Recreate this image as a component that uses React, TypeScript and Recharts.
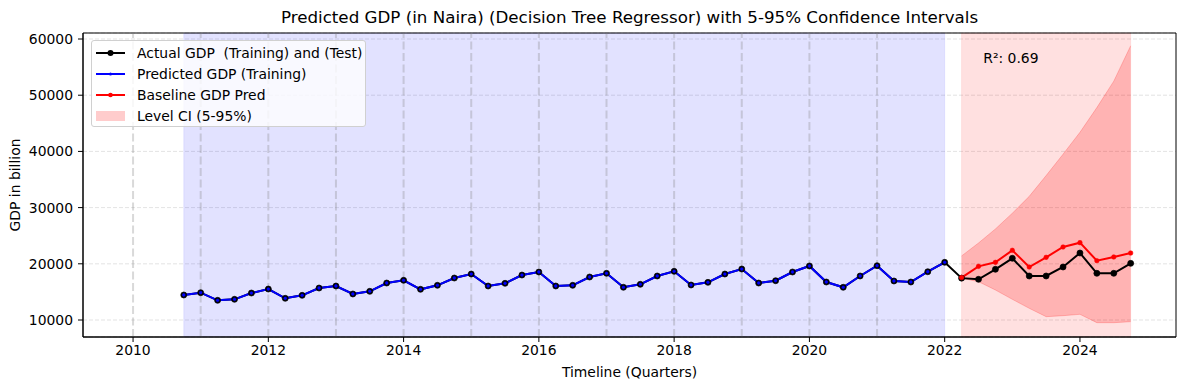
import React from 'react';
import {
  ComposedChart, Line, Area, XAxis, YAxis, CartesianGrid,
  ReferenceArea, ReferenceLine, ReferenceDot, Legend,
} from 'recharts';

const FONT = "'DejaVu Sans', sans-serif";

// quarters (year-month of quarter start)
const trainQuarters = [
  '2010-10',
  '2011-01', '2011-04', '2011-07', '2011-10',
  '2012-01', '2012-04', '2012-07', '2012-10',
  '2013-01', '2013-04', '2013-07', '2013-10',
  '2014-01', '2014-04', '2014-07', '2014-10',
  '2015-01', '2015-04', '2015-07', '2015-10',
  '2016-01', '2016-04', '2016-07', '2016-10',
  '2017-01', '2017-04', '2017-07', '2017-10',
  '2018-01', '2018-04', '2018-07', '2018-10',
  '2019-01', '2019-04', '2019-07', '2019-10',
  '2020-01', '2020-04', '2020-07', '2020-10',
  '2021-01', '2021-04', '2021-07', '2021-10',
  '2022-01',
];
const testQuarters = [
  '2022-04', '2022-07', '2022-10',
  '2023-01', '2023-04', '2023-07', '2023-10',
  '2024-01', '2024-04', '2024-07', '2024-10',
];

const actualTrain = [
  14450,
  14860, 13500, 13680, 14800,
  15510, 13860, 14390, 15690,
  16050, 14630, 15100, 16580,
  17060, 15460, 16170, 17470,
  18180, 16050, 16530, 18000,
  18540, 16050, 16170, 17650,
  18310, 15820, 16350, 17830,
  18660, 16230, 16700, 18180,
  19070, 16580, 16990, 18540,
  19610, 16760, 15820, 17830,
  19660, 16940, 16760, 18590,
  20260,
];
// the tree fits the training set exactly
const predictedTrain = [...actualTrain];

const actualTest = [17450, 17240, 19020, 20980, 17830, 17830, 19430, 21920, 18310, 18310, 20080];
const baselinePred = [17550, 19550, 20260, 22400, 19430, 21150, 22990, 23760, 20550, 21210, 21920];
const ciLow = [17450, 16820, 15340, 13680, 12080, 10590, 10770, 11010, 9520, 9520, 9700];
const ciHigh = [21400, 23700, 26200, 29000, 32000, 35700, 39500, 43400, 47800, 52500, 58800];

const yearMarks = [2010, 2011, 2012, 2013, 2014, 2015, 2016, 2017, 2018, 2019, 2020, 2021];
const xTicks = [2010, 2012, 2014, 2016, 2018, 2020, 2022, 2024];
const yTicks = [10000, 20000, 30000, 40000, 50000, 60000];

const toYear = (q: string) => {
  const [y, m] = q.split('-').map(Number);
  return y + (m - 1) / 12;
};

const data = [
  ...trainQuarters.map((q, i) => ({ x: toYear(q), actual: actualTrain[i], predicted: predictedTrain[i] })),
  ...testQuarters.map((q, i) => ({
    x: toYear(q),
    actual: actualTest[i],
    baseline: baselinePred[i],
    ci: [ciLow[i], ciHigh[i]],
  })),
];

const trainStart = toYear(trainQuarters[0]);
const trainEnd = toYear(trainQuarters[trainQuarters.length - 1]);
const testStart = toYear(testQuarters[0]);
const testEnd = toYear(testQuarters[testQuarters.length - 1]);

const X_DOMAIN: [number, number] = [2009.26, 2025.42];
const Y_DOMAIN: [number, number] = [6975, 61070];

const legendItems = [
  { label: 'Actual GDP  (Training) and (Test)', color: '#000000', r: 3, kind: 'line' },
  { label: 'Predicted GDP (Training)', color: '#0000ff', r: 1.5, kind: 'line' },
  { label: 'Baseline GDP Pred', color: '#ff0000', r: 2.3, kind: 'line' },
  { label: 'Level CI (5-95%)', color: '#ff0000', r: 0, kind: 'patch' },
];

const renderLegend = () => (
  <div
    style={{
      width: 275,
      height: 87,
      boxSizing: 'border-box',
      border: '1px solid #d0d0d0',
      borderRadius: 3,
      background: 'rgba(255,255,255,0.8)',
      fontFamily: FONT,
      fontSize: 13.9,
      color: '#000',
      padding: '1px 0 0 4px',
    }}
  >
    {legendItems.map((it) => (
      <div key={it.label} style={{ display: 'flex', alignItems: 'center', height: 21, whiteSpace: 'pre' }}>
        <svg width={30} height={14} style={{ marginRight: 11 }}>
          {it.kind === 'line' ? (
            <>
              <line x1={0} y1={7} x2={29} y2={7} stroke={it.color} strokeWidth={2} />
              <circle cx={14.5} cy={7} r={it.r} fill={it.color} />
            </>
          ) : (
            <rect x={0} y={2} width={29} height={10} fill={it.color} fillOpacity={0.2} />
          )}
        </svg>
        <span>{it.label}</span>
      </div>
    ))}
  </div>
);

const tickStyle = { fontFamily: FONT, fontSize: 13.9, fill: '#000' };

export default function App() {
  return (
    <div style={{ position: 'absolute', left: 0, top: 0, width: 1189, height: 390, background: '#fff' }}>
      <div
        style={{
          position: 'absolute', left: 83, top: 7, width: 1093, textAlign: 'center',
          fontFamily: FONT, fontSize: 16.7, color: '#000', lineHeight: '20px',
        }}
      >
        Predicted GDP (in Naira) (Decision Tree Regressor) with 5-95% Confidence Intervals
      </div>
      <ComposedChart width={1189} height={390} data={data} margin={{ top: 33, right: 13, left: 0, bottom: 0 }}>
        <CartesianGrid vertical={false} stroke="#b0b0b0" strokeOpacity={0.45} strokeDasharray="4 2" strokeWidth={0.8} />
        <ReferenceArea x1={trainStart} x2={trainEnd} fill="#0000ff" fillOpacity={0.115} stroke="#0000ff" strokeOpacity={0.08} />
        <ReferenceArea x1={testStart} x2={testEnd} fill="#ff0000" fillOpacity={0.12} stroke="#ff0000" strokeOpacity={0.08} />
        {yearMarks.map((y) => (
          <ReferenceLine key={y} x={y} stroke="#808080" strokeOpacity={0.3} strokeDasharray="8 3.5" strokeWidth={2} />
        ))}
        <XAxis
          dataKey="x" type="number" domain={X_DOMAIN} ticks={xTicks} allowDataOverflow
          height={53} tickSize={5} tickMargin={3} tick={tickStyle}
          axisLine={{ stroke: '#000' }} tickLine={{ stroke: '#000' }}
          label={{ value: 'Timeline (Quarters)', position: 'insideBottom', offset: 13, style: { ...tickStyle, textAnchor: 'middle' } }}
        />
        <YAxis
          type="number" domain={Y_DOMAIN} ticks={yTicks} allowDataOverflow
          width={83} tickSize={5} tickMargin={5} tick={tickStyle}
          axisLine={{ stroke: '#000' }} tickLine={{ stroke: '#000' }}
          label={{ value: 'GDP in billion', angle: -90, position: 'insideLeft', offset: 15, style: { ...tickStyle, textAnchor: 'middle' } }}
        />
        <Area
          dataKey="ci" type="linear" fill="#ff0000" fillOpacity={0.2} stroke="#ff0000" strokeOpacity={0.2}
          strokeWidth={1} isAnimationActive={false} dot={false} activeDot={false} legendType="none"
        />
        <Line dataKey="actual" type="linear" stroke="#000" strokeWidth={2}
          dot={{ r: 3, fill: '#000', stroke: '#000', strokeWidth: 0.7 }} activeDot={false} isAnimationActive={false} />
        <Line dataKey="predicted" type="linear" stroke="#0000ff" strokeWidth={2}
          dot={{ r: 1.4, fill: '#0000ff', stroke: '#0000ff', strokeWidth: 0.5 }} activeDot={false} isAnimationActive={false} />
        <Line dataKey="baseline" type="linear" stroke="#ff0000" strokeWidth={2}
          dot={{ r: 2.3, fill: '#ff0000', stroke: '#ff0000', strokeWidth: 0.5 }} activeDot={false} isAnimationActive={false} />
        <ReferenceDot
          x={2022.57} y={56600} r={0} fill="none" stroke="none"
          label={(props: any) => (
            <text x={props.viewBox?.x ?? 0} y={(props.viewBox?.y ?? 0) + 5} style={{ ...tickStyle }}>R²: 0.69</text>
          )}
        />
        {/* plot frame */}
        <ReferenceArea x1={X_DOMAIN[0]} x2={X_DOMAIN[1]} y1={Y_DOMAIN[0]} y2={Y_DOMAIN[1]}
          fill="none" fillOpacity={0} stroke="#000" strokeWidth={1} ifOverflow="visible" />
        <Legend
          content={renderLegend}
          layout="vertical" align="center" verticalAlign="middle"
          wrapperStyle={{ left: 91, top: 40, width: 275, height: 87 }}
        />
      </ComposedChart>
    </div>
  );
}
